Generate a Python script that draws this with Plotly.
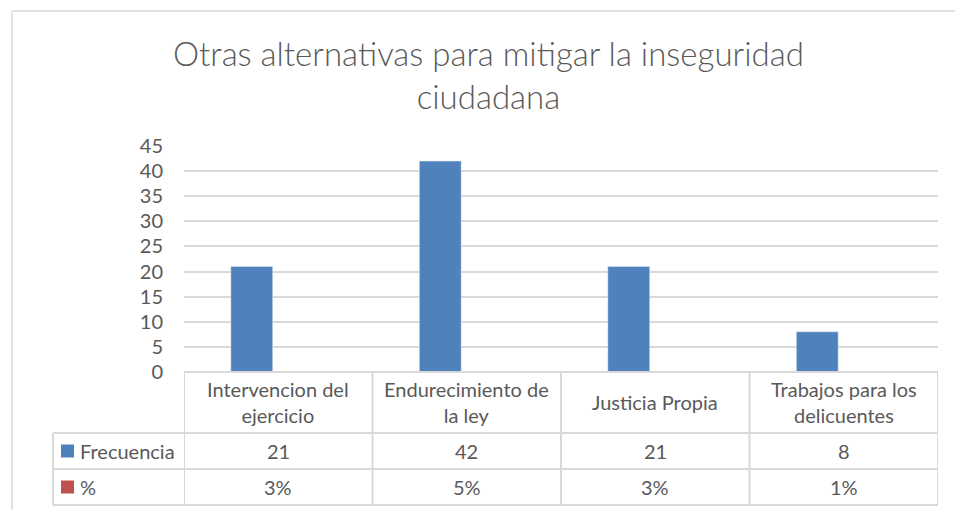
import plotly.graph_objects as go

categories = ["Intervencion del<br>ejercicio", "Endurecimiento de<br>la ley", "Justicia Propia", "Trabajos para los<br>delicuentes"]
frecuencia = [21, 42, 21, 8]
porcentaje = [0.03, 0.05, 0.03, 0.01]
porcentaje_labels = ["3%", "5%", "3%", "1%"]
series_names = ["Frecuencia", "%"]
y_ticks = [0, 5, 10, 15, 20, 25, 30, 35, 40, 45]
title_text = "Otras alternativas para mitigar la inseguridad<br>ciudadana"

OFF = 8  # page body margin
W, H = 963, 510
L, T = 184 - OFF, 146 - OFF
R = W - (938 - OFF)
B = H - (372 - OFF)
PW, PH = W - L - R, H - T - B
FONT = "Lato, 'Open Sans', sans-serif"
GRAY = "#595959"
LINE = "#D9D9D9"
BLUE = "#4F81BD"
RED = "#C0504D"

def px(xp):
    return (xp - OFF - L) / PW

def py(yp):
    return (H - B - (yp - OFF)) / PH

xs = list(range(len(categories)))

fig = go.Figure()
fig.add_trace(go.Bar(x=xs, y=frecuencia, name=series_names[0], marker_color=BLUE))
fig.add_trace(go.Bar(x=xs, y=porcentaje, name=series_names[1], marker_color=RED))

shapes = []
# chart border
shapes.append(dict(type="line", xref="paper", yref="paper", x0=px(12), x1=px(W + 20), y0=py(11), y1=py(11),
                   line=dict(color=LINE, width=1.5)))
shapes.append(dict(type="line", xref="paper", yref="paper", x0=px(12), x1=px(12), y0=py(11), y1=py(H + 20),
                   line=dict(color=LINE, width=1.5)))

row_top = [372, 433, 469]
row_bot = [433, 469, 505]
tbl_left = 53
shapes.append(dict(type="line", xref="x", yref="paper", x0=-0.5, x1=len(xs) - 0.5, y0=py(372), y1=py(372),
                   line=dict(color=LINE, width=2)))
for yy in [433, 469, 505]:
    shapes.append(dict(type="line", xref="paper", yref="paper", x0=px(tbl_left), x1=1, y0=py(yy), y1=py(yy),
                       line=dict(color=LINE, width=2)))
for i in range(len(xs) + 1):
    shapes.append(dict(type="line", xref="x", yref="paper", x0=i - 0.5, x1=i - 0.5, y0=py(372), y1=py(505),
                       line=dict(color=LINE, width=2)))
shapes.append(dict(type="line", xref="paper", yref="paper", x0=px(tbl_left), x1=px(tbl_left), y0=py(433), y1=py(505),
                   line=dict(color=LINE, width=2)))
for k, col in enumerate([BLUE, RED]):
    yc = (row_top[k + 1] + row_bot[k + 1]) / 2
    shapes.append(dict(type="rect", xref="paper", yref="paper", x0=px(61), x1=px(74), y0=py(yc + 6.5), y1=py(yc - 6.5),
                       fillcolor=col, line=dict(width=0)))

annotations = []
annotations.append(dict(text=title_text, xref="paper", yref="paper", x=px(488), y=py(31), xanchor="center",
                        yanchor="top", showarrow=False,
                        font=dict(family=FONT, size=33, color=GRAY, weight=300)))
for i, c in enumerate(categories):
    annotations.append(dict(text=c, x=i, xref="x", yref="paper", y=py(402), yanchor="middle", showarrow=False,
                            font=dict(family=FONT, size=20, color=GRAY)))
    annotations.append(dict(text=str(frecuencia[i]), x=i, xref="x", yref="paper", y=py(451), yanchor="middle",
                            showarrow=False, font=dict(family=FONT, size=20, color=GRAY)))
    annotations.append(dict(text=porcentaje_labels[i], x=i, xref="x", yref="paper", y=py(487), yanchor="middle",
                            showarrow=False, font=dict(family=FONT, size=20, color=GRAY)))
for k, name in enumerate(series_names):
    yc = (row_top[k + 1] + row_bot[k + 1]) / 2
    annotations.append(dict(text=name, xref="paper", yref="paper", x=px(78), y=py(yc), xanchor="left",
                            yanchor="middle", showarrow=False, font=dict(family=FONT, size=20, color=GRAY)))

fig.update_layout(
    width=W, height=H,
    margin=dict(l=L, r=R, t=T, b=B, autoexpand=False),
    paper_bgcolor="white", plot_bgcolor="white",
    barmode="group", bargap=0.438, bargroupgap=0.21,
    showlegend=False,
    shapes=shapes, annotations=annotations,
    xaxis=dict(range=[-0.5, len(xs) - 0.5], showticklabels=False, showgrid=False, zeroline=False, fixedrange=True),
    yaxis=dict(range=[0, 45], tickvals=y_ticks, showgrid=True, gridcolor=LINE, gridwidth=1.5, zeroline=False,
               tickfont=dict(family=FONT, size=20, color=GRAY), ticklabelstandoff=20),
)
fig.write_html("out.html")
